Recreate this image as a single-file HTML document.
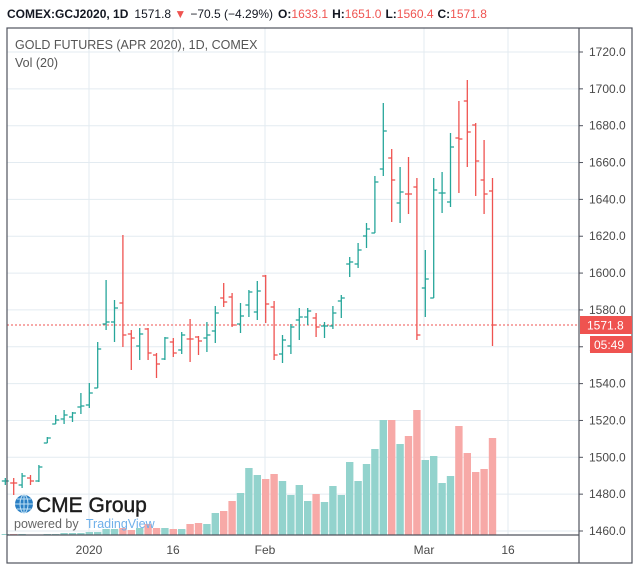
<!DOCTYPE html>
<html><head><meta charset="utf-8"><style>
body{margin:0;background:#fff;width:639px;height:570px;overflow:hidden;font-family:"Liberation Sans",sans-serif}
svg text{font-family:"Liberation Sans",sans-serif}
</style></head><body>
<svg id="s" width="639" height="570" xmlns="http://www.w3.org/2000/svg">
<rect width="639" height="570" fill="#fff"/>
<g id="grid"></g>
<g id="vol"></g>
<line x1="7" y1="325" x2="579" y2="325" stroke="#ef5350" stroke-dasharray="2,2" stroke-width="1"/>
<g id="bars"></g>
<rect x="7" y="28" width="625" height="535" fill="none" stroke="#50535e" stroke-width="1.2"/>
<line x1="579" y1="28" x2="579" y2="563" stroke="#50535e" stroke-width="1.2"/>
<line x1="7" y1="535" x2="579" y2="535" stroke="#50535e" stroke-width="1.2"/>
<g id="ylab" font-size="12" fill="#4a4a4a"></g>
<g font-size="12" fill="#4a4a4a" text-anchor="middle">
<text x="89" y="554">2020</text><text x="173" y="554">16</text><text x="265" y="554">Feb</text><text x="424" y="554">Mar</text><text x="508" y="554">16</text>
</g>
<rect x="580" y="316" width="52" height="18" fill="#ef5350"/>
<text x="587" y="329.5" font-size="12" fill="#fff">1571.8</text>
<rect x="590" y="336" width="42" height="17" fill="#ef5350"/>
<text x="594" y="349" font-size="12" fill="#fff">05:49</text>
<text x="7" y="18" font-size="12" fill="#131722"><tspan font-weight="bold">COMEX:GCJ2020, 1D</tspan><tspan dx="6">1571.8</tspan><tspan fill="#ef5350"> ▼</tspan><tspan dx="4">−70.5 (−4.29%)</tspan><tspan dx="5" font-weight="bold">O:</tspan><tspan fill="#ef5350">1633.1</tspan><tspan dx="4" font-weight="bold">H:</tspan><tspan fill="#ef5350">1651.0</tspan><tspan dx="4" font-weight="bold">L:</tspan><tspan fill="#ef5350">1560.4</tspan><tspan dx="4" font-weight="bold">C:</tspan><tspan fill="#ef5350">1571.8</tspan></text>
<text x="15" y="49" font-size="12.5" fill="#555">GOLD FUTURES (APR 2020), 1D, COMEX</text>
<text x="15" y="67" font-size="12.5" fill="#555">Vol (20)</text>
<circle cx="24" cy="504" r="9" fill="#2a7fc4"/>
<path d="M15 504h18M24 495v18M17 499h14M17 509h14" stroke="#bfe0f5" stroke-width="1"/>
<ellipse cx="24" cy="504" rx="4" ry="9" fill="none" stroke="#bfe0f5" stroke-width="1"/>
<text x="36" y="512" font-size="21" fill="#1d1d1d" stroke="#1d1d1d" stroke-width="0.4">CME Group</text>
<text x="14" y="528" font-size="12.5" fill="#666">powered by <tspan dx="4" fill="#6fb0ea">TradingView</tspan></text>
</svg>
<script>
var NS="http://www.w3.org/2000/svg";
function el(p,t,a){var e=document.createElementNS(NS,t);for(var k in a)e.setAttribute(k,a[k]);p.appendChild(e);return e;}
var g=document.getElementById('grid'),yl=document.getElementById('ylab');
for(var v=1460;v<=1720;v+=20){var y=52+(1720-v)*1.8423;
 el(g,'line',{x1:7,x2:579,y1:y,y2:y,stroke:'#e3ebf1','stroke-width':1});
 el(g,'line',{x1:579,x2:583,y1:y,y2:y,stroke:'#50535e','stroke-width':1});
 var t=el(yl,'text',{x:589,y:y+4});t.textContent=v.toFixed(1);}
[89,173,265,424,508].forEach(function(x){el(g,'line',{x1:x,x2:x,y1:28,y2:535,stroke:'#e3ebf1','stroke-width':1});});
var B=[['g',478,485,481,481],['r',478,495,483,483],['g',473,488,485,476],['r',475,485,478,481],['g',465,482,481,467],
['g',437,443,443,438],['g',415,424,424,420],['g',410,424,419,415],['g',412,422,417,413],['g',393,414,407,406],
['g',383,408,405,393],['g',342,388,388,349],['g',280,330,324,322],['g',300,342,322,308],['r',235,347,303,335],
['r',330,370,334,338],['g',328,360,346,334],['r',328,360,329,353],['r',353,378,355,364],['g',337,360,359,338],
['r',338,357,342,353],['g',332,354,350,335],['r',319,362,339,339],['r',336,355,337,341],['g',322,352,338,335],
['g',306,343,331,313],['r',283,307,298,302],['r',293,327,297,325],['g',303,333,324,316],['g',290,317,305,292],
['g',281,320,312,291],['r',275,323,276,304],['r',301,360,307,355],['g',335,363,354,340],['g',324,354,346,327],
['g',308,340,320,317],['g',308,325,317,311],['r',313,337,318,327],['g',322,338,326,326],['g',306,329,326,313],
['g',295,318,301,298],['g',257,277,264,262],['g',243,268,264,250],['g',223,248,236,229],['g',176,233,233,182],
['g',103,176,169,131],['r',149,222,158,180],['g',167,223,203,192],['r',157,214,194,194],['r',178,340,187,335],
['g',250,317,288,279],['g',178,298,298,190],['g',172,213,193,193],['g',133,207,202,147],['r',101,193,138,139],
['r',80,167,101,132],['r',123,196,125,161],['r',140,214,180,194],['r',178,346,191,325]];
var V=[534,534,534,535,535,534,534,533,533,533,532,532,529,529,528,530,528,524,528,528,529,529,524,523,524,513,511,501,493,468,475,479,474,481,495,485,501,494,502,486,495,462,481,464,449,420,420,444,436,410,460,456,483,476,426,453,472,469,438];
var vc=['g','r','g','g','g','g','g','g','g','g','g','g','g','g','r','r','g','r','r','g','r','g','r','r','g','g','r','r','g','g','g','r','r','g','g','g','g','r','g','g','g','g','g','g','g','g','r','g','r','r','g','g','g','g','r','r','r','r','r'];
var bg=document.getElementById('bars'),vg=document.getElementById('vol');
B.forEach(function(b,i){var x=5.3+8.4*i;var c=b[0]=='g'?'#26a69a':'#ef5350';
 el(vg,'rect',{x:x-3.7,y:V[i],width:7.4,height:535-V[i],fill:vc[i]=='g'?'#93d3cd':'#f7a9a7'});
 el(bg,'line',{x1:x,x2:x,y1:b[1],y2:b[2],stroke:c,'stroke-width':1.3});
 el(bg,'line',{x1:x-3.5,x2:x,y1:b[3],y2:b[3],stroke:c,'stroke-width':1.3});
 el(bg,'line',{x1:x,x2:x+3.5,y1:b[4],y2:b[4],stroke:c,'stroke-width':1.3});});
</script>
</body></html>
